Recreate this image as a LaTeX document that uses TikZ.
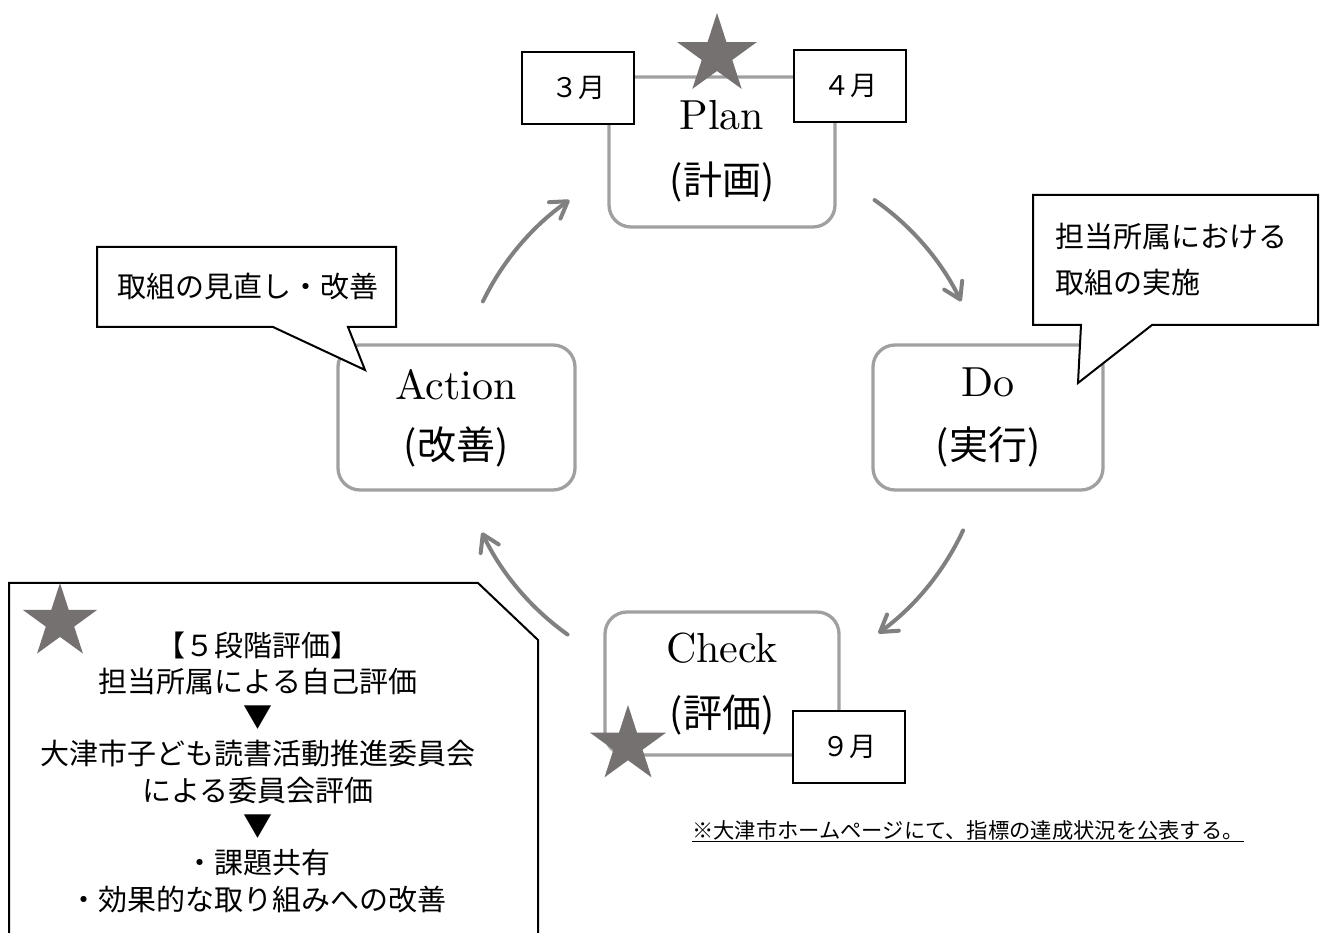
\documentclass[tikz,border=0pt]{standalone}
\usepackage{fontspec}
\newfontfamily\jp{Noto Sans CJK JP}
\newfontfamily\lmten{lmroman10-regular.otf}
\usetikzlibrary{arrows.meta,shapes.geometric,calc}
\definecolor{boxgray}{HTML}{A0A0A0}
\definecolor{arrgray}{HTML}{808080}
\definecolor{stargray}{HTML}{767171}
\begin{document}
\begin{tikzpicture}[x=1pt,y=1pt,
 phase/.style={draw=boxgray, line width=3.3pt, rounded corners=22pt, fill=white, inner sep=0pt},
 month/.style={draw=black, line width=1.3pt, fill=white, minimum width=112pt, minimum height=72pt, inner sep=0pt, font=\jp\fontsize{27pt}{32pt}\selectfont},
 latin/.style={font=\lmten\fontsize{42pt}{50pt}\selectfont, inner sep=0pt},
 jplbl/.style={font=\jp\fontsize{39pt}{48pt}\selectfont, inner sep=0pt},
 bigstar/.style={star, star points=5, star point ratio=2.618, fill=stargray, draw=none, inner sep=0pt},
 cyc/.style={draw=arrgray, line width=4pt, line cap=round, -{Straight Barb[length=16pt,width=20pt,round]}},
 callout/.style={draw=black, line width=2pt, fill=white, line join=miter},
 bodytxt/.style={font=\jp\fontsize{29pt}{34pt}\selectfont, inner sep=0pt},
 notetxt/.style={font=\jp\fontsize{21.3pt}{26pt}\selectfont, inner sep=0pt},
]
\useasboundingbox (0,0) rectangle (1321,933);
\fill[white] (0,0) rectangle (1321,933);

% phase boxes
\node[phase, minimum width=226pt, minimum height=150pt] (plan) at (722,781) {};
\node[phase, minimum width=237pt, minimum height=145pt] (action) at (456.5,515.5) {};
\node[phase, minimum width=230pt, minimum height=145pt] (do) at (988,515.5) {};
\node[phase, minimum width=234pt, minimum height=143pt] (check) at (722,249.5) {};

\node[latin] (planA) at (722,818) {Plan};
\node[jplbl] (planB) at (722,751) {(計画)};
\node[latin] (actionA) at (456,548) {Action};
\node[jplbl] (actionB) at (456,486) {(改善)};
\node[latin] (doA) at (988,551) {Do};
\node[jplbl] (doB) at (988,486) {(実行)};
\node[latin] (checkA) at (722,285) {Check};
\node[jplbl] (checkB) at (722,218) {(評価)};

% month boxes
\node[month] (m3) at (578,845) {３月};
\node[month] (m4) at (850,847) {４月};
\node[month] (m9) at (849,186) {９月};

% stars
\node[bigstar, minimum size=84pt] (s1) at (717,878) {};
\node[bigstar, minimum size=80pt] (s2) at (628,188) {};

% cycle arrows
\coordinate (C) at (722,515);
\coordinate (a1s) at ($(C)+(154:266)$);
\coordinate (a2s) at ($(C)+(55:266)$);
\coordinate (a3s) at ($(C)+(-25:266)$);
\coordinate (a4s) at ($(C)+(-125.5:266)$);
\draw[cyc] (a1s) arc[start angle=154,end angle=125,radius=266];
\draw[cyc] (a2s) arc[start angle=55,end angle=26,radius=266];
\draw[cyc] (a3s) arc[start angle=-25,end angle=-54,radius=266];
\draw[cyc] (a4s) arc[start angle=-125.5,end angle=-154.5,radius=266];

% callouts
\draw[callout] (97,686) -- (396,686) -- (396,606) -- (348,606) -- (365,563) -- (273,606) -- (97,606) -- cycle;
\node[bodytxt] (c1t) at (248,646) {取組の見直し・改善};

\draw[callout] (1033,738) -- (1318,738) -- (1318,608) -- (1152,608) -- (1078,550) -- (1081,608) -- (1033,608) -- cycle;
\node[bodytxt, anchor=west] (c2a) at (1055,696) {担当所属における};
\node[bodytxt, anchor=west] (c2b) at (1055,650) {取組の実施};

% evaluation box
\draw[callout] (9,-10) -- (9,350) -- (478,350) -- (538,293) -- (538,-10);
\node[bigstar, minimum size=78pt] (s3) at (60,311) {};
\node[bodytxt] (e1) at (258,288) {【５段階評価】};
\node[bodytxt] (e2) at (258,251.7) {担当所属による自己評価};
\node[bodytxt] (e3) at (258,215.4) {▼};
\node[bodytxt] (e4) at (258,179.1) {大津市子ども読書活動推進委員会};
\node[bodytxt] (e5) at (258,142.8) {による委員会評価};
\node[bodytxt] (e6) at (258,106.5) {▼};
\node[bodytxt] (e7) at (258,70.2) {・課題共有};
\node[bodytxt] (e8) at (258,33.9) {・効果的な取り組みへの改善};

% note
\node[notetxt] (note) at (968,102) {\underline{※大津市ホームページにて、指標の達成状況を公表する。}};
\end{tikzpicture}
\end{document}
